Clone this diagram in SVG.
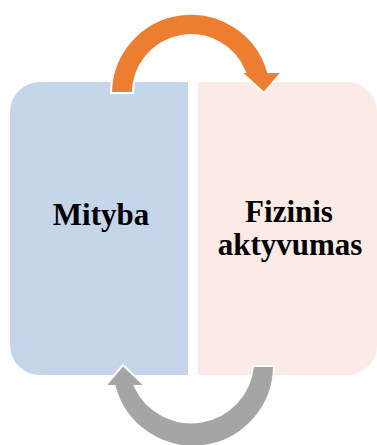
<svg xmlns="http://www.w3.org/2000/svg" width="377" height="445" viewBox="0 0 377 445">
<style>
.lbl{font-family:"Liberation Serif","Times New Roman",serif;font-weight:bold;font-size:31px;fill:#000;text-anchor:middle}
.arr{stroke:#fff;stroke-width:2;stroke-linejoin:miter}
</style>
<rect width="377" height="445" fill="#fff"/>
<g id="mityba">
<path d="M188,82 L40,82 A30,30 0 0 0 10,112 L10,345 A30,30 0 0 0 40,375 L188,375 Z" fill="#C5D5EA"/>
<text class="lbl" x="101" y="225">Mityba</text>
</g>
<g id="fizinis">
<path d="M198,82 L347,82 A30,30 0 0 1 377,112 L377,345 A30,30 0 0 1 347,375 L198,375 Z" fill="#FBEAE6"/>
<text class="lbl" x="289" y="222">Fizinis</text>
<text class="lbl" x="290" y="255">aktyvumas</text>
</g>
<g id="connectors">
<path class="arr" fill="#ED7D31" d="M111,93 A80,80 0 0 1 268,72 L282,72 L264,93 L241,72 L245,72 A58,58 0 0 0 133,93 Z"/>
<path class="arr" fill="#A5A5A5" d="M274,366 A81,81 0 0 1 114.6,386 L105,386 L123,365 L145,386 L134.8,386 A62,62 0 0 0 253,366 Z"/>
</g>
</svg>
